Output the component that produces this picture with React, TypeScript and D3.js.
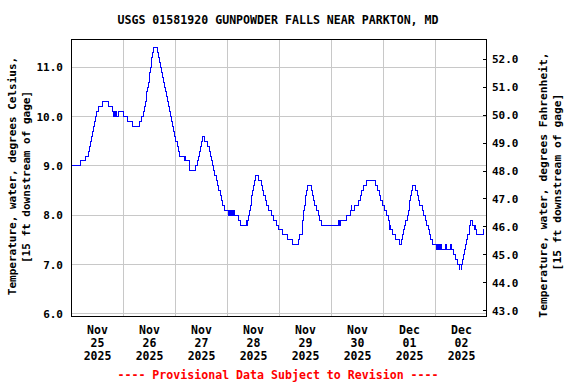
import React from "react";
import * as d3 from "d3";

// ---- Data (hours since 2025-11-25 00:00, water temperature in °C; stepped 15‑min record read at change points)
const nov25: [number, number][] = [
  [0, 9.0], [4.3, 9.1], [6.6, 9.2], [7.7, 9.3], [8.2, 9.4], [8.8, 9.5], [9.3, 9.6], [9.7, 9.7],
  [10.2, 9.8], [10.6, 9.9], [11.1, 10.0], [11.7, 10.1], [12.3, 10.2], [14.3, 10.3], [17.0, 10.2],
  [18.8, 10.1], [19.6, 10.0], [19.9, 10.1], [20.2, 10.0], [20.5, 10.1], [20.8, 10.0], [21.8, 10.1],
  [23.9, 10.0],
];
const nov26: [number, number][] = [
  [25.8, 9.9], [28.1, 9.8], [31.3, 9.9], [32.2, 10.0], [33.0, 10.1], [33.6, 10.2], [34.1, 10.3],
  [34.5, 10.4], [34.8, 10.5], [35.2, 10.6], [35.5, 10.7], [35.8, 10.8], [36.1, 10.9], [36.4, 11.0],
  [36.7, 11.1], [37.0, 11.2], [37.3, 11.3], [37.8, 11.4], [39.7, 11.3], [40.1, 11.2], [40.6, 11.1],
  [41.1, 11.0], [41.5, 10.9], [42.0, 10.8], [42.5, 10.7], [42.9, 10.6], [43.4, 10.5], [43.85, 10.4],
  [44.3, 10.3], [44.8, 10.2], [45.2, 10.1], [45.7, 10.0], [46.2, 9.9], [46.6, 9.8], [47.1, 9.7],
  [47.6, 9.6],
];
const nov27: [number, number][] = [
  [48.2, 9.5], [48.9, 9.4], [49.5, 9.3], [49.9, 9.2], [52.0, 9.1], [52.3, 9.2], [52.6, 9.1],
  [54.4, 9.0], [54.6, 8.9], [57.3, 9.0], [58.0, 9.1], [58.6, 9.2], [59.1, 9.3], [59.6, 9.4],
  [60.0, 9.5], [60.4, 9.6], [61.6, 9.5], [62.8, 9.4], [63.5, 9.3], [64.1, 9.2], [64.7, 9.1],
  [65.2, 9.0], [65.6, 8.9], [65.9, 8.8], [66.7, 8.7], [67.5, 8.6], [67.9, 8.5], [68.6, 8.4],
  [69.0, 8.3], [69.8, 8.2], [70.6, 8.1],
];
const nov28: [number, number][] = [
  [72.3, 8.0], [72.6, 8.1], [73.0, 8.0], [73.3, 8.1], [73.7, 8.0], [74.0, 8.1], [74.4, 8.0],
  [74.7, 8.1], [75.1, 8.0], [77.2, 7.9], [78.0, 7.8], [80.6, 7.9], [80.8, 7.8], [81.1, 7.9],
  [81.7, 8.0], [82.2, 8.1], [82.6, 8.2], [82.9, 8.3], [83.3, 8.4], [83.7, 8.5], [84.0, 8.6],
  [84.4, 8.7], [84.9, 8.8], [86.5, 8.7], [87.6, 8.6], [88.0, 8.5], [88.6, 8.4], [89.4, 8.3],
  [90.2, 8.2], [91.1, 8.1], [92.2, 8.0], [93.3, 7.9], [94.5, 7.8], [95.6, 7.7],
];
const nov29: [number, number][] = [
  [97.5, 7.6], [99.9, 7.5], [101.8, 7.4], [104.6, 7.5], [105.2, 7.6], [106.4, 7.7], [106.6, 7.8],
  [106.7, 7.9], [106.9, 8.0], [107.2, 8.1], [107.5, 8.2], [107.8, 8.3], [108.1, 8.4], [108.6, 8.5],
  [109.0, 8.6], [110.6, 8.5], [111.0, 8.4], [111.7, 8.3], [112.3, 8.2], [112.9, 8.1], [113.8, 8.0],
  [114.4, 7.9], [115.6, 7.8],
];
const nov30: [number, number][] = [
  [123.4, 7.9], [123.7, 7.8], [124.2, 7.9], [126.9, 8.0], [128.8, 8.1], [129.1, 8.2], [129.4, 8.1],
  [130.8, 8.2], [132.4, 8.3], [133.3, 8.4], [134.0, 8.5], [134.8, 8.6], [136.2, 8.7], [140.3, 8.6],
  [141.3, 8.5], [142.0, 8.4], [142.8, 8.3], [143.6, 8.2],
];
const dec01: [number, number][] = [
  [144.6, 8.1], [145.3, 8.0], [146.1, 7.9], [146.6, 7.8], [146.9, 7.7], [147.1, 7.8], [147.3, 7.7],
  [148.1, 7.6], [149.5, 7.5], [151.4, 7.4], [152.3, 7.5], [152.8, 7.6], [153.4, 7.7], [153.8, 7.8],
  [154.3, 7.9], [154.9, 8.0], [155.4, 8.1], [155.8, 8.2], [156.2, 8.3], [156.6, 8.4], [156.9, 8.5],
  [157.4, 8.6], [158.8, 8.5], [159.7, 8.4], [160.3, 8.3], [160.8, 8.2], [162.0, 8.1], [162.6, 8.0],
  [163.3, 7.9], [163.9, 7.8], [164.7, 7.7], [165.1, 7.6], [165.9, 7.5], [166.4, 7.4],
];
const dec02: [number, number][] = [
  [168.5, 7.3], [168.8, 7.4], [169.1, 7.3], [169.4, 7.4], [169.7, 7.3], [170.0, 7.4], [170.3, 7.3],
  [170.6, 7.4], [170.9, 7.3], [172.4, 7.4], [173.0, 7.3], [174.9, 7.4], [175.5, 7.3], [176.3, 7.2],
  [177.2, 7.1], [178.3, 7.0], [178.9, 6.9], [179.1, 7.0], [179.9, 6.9], [180.1, 7.0], [180.6, 7.1],
  [181.0, 7.2], [181.3, 7.3], [181.7, 7.4], [182.1, 7.5], [182.6, 7.6], [183.6, 7.7], [183.9, 7.8],
  [184.2, 7.9], [185.1, 7.8], [186.0, 7.7], [186.3, 7.8], [186.6, 7.7], [187.0, 7.6], [190.0, 7.7],
  [190.5, 7.7],
];

const celsiusTicks = [6, 7, 8, 9, 10, 11];
const fahrenheitTicks = [43, 44, 45, 46, 47, 48, 49, 50, 51, 52];
const startMs = Date.UTC(2025, 10, 25);
const endMs = Date.UTC(2025, 11, 3);

const titleText = "USGS 01581920 GUNPOWDER FALLS NEAR PARKTON, MD";
const leftLabel = ["Temperature, water, degrees Celsius,", "[15 ft downstream of gage]"];
const rightLabel = ["Temperature, water, degrees Fahrenheit,", "[15 ft downstream of gage]"];
const footerText = "---- Provisional Data Subject to Revision ----";

const FONT = "'DejaVu Sans Mono', 'Liberation Mono', monospace";

export default function App() {
  const W = 576, H = 384;
  const fL = 71.5, fR = 486.5, fT = 39.5, fB = 316.5;

  const series = [...nov25, ...nov26, ...nov27, ...nov28, ...nov29, ...nov30, ...dec01, ...dec02].map(
    ([h, t]) => ({ date: new Date(startMs + h * 3600e3), t })
  );

  const x = d3.scaleUtc().domain([new Date(startMs), new Date(endMs)]).range([71.5, 487.5]);
  const y = d3.scaleLinear().domain([6, 11]).range([313.8, 67.3]);
  const yF = d3.scaleLinear().domain([43, 52]).range([310.7, 59.3]);

  const line = d3
    .line<{ date: Date; t: number }>()
    .x((d) => x(d.date))
    .y((d) => y(d.t))
    .curve(d3.curveStepAfter);

  const days = d3.utcDay.range(new Date(startMs), new Date(endMs));
  const fmtMon = d3.utcFormat("%b");
  const fmtDay = d3.utcFormat("%d");
  const fmtYear = d3.utcFormat("%Y");
  const px = (v: number) => Math.floor(v) + 0.5;

  return (
    <svg
      width={W}
      height={H}
      viewBox={`0 0 ${W} ${H}`}
      style={{ position: "absolute", left: 0, top: 0, background: "#fff" }}
      fontFamily={FONT}
      fontWeight="bold"
    >
      <rect x={0} y={0} width={W} height={H} fill="#fff" />
      {/* grid */}
      <g stroke="#c8c8c8" strokeWidth={1} shapeRendering="crispEdges">
        {celsiusTicks.map((v) => (
          <line key={"gy" + v} x1={fL} x2={fR} y1={px(y(v))} y2={px(y(v))} />
        ))}
        {days.slice(1).map((d, i) => (
          <line key={"gx" + i} x1={px(x(d))} x2={px(x(d))} y1={fT} y2={fB} />
        ))}
      </g>
      {/* data line */}
      <path
        d={line(series) || ""}
        fill="none"
        stroke="#0000ff"
        strokeWidth={1}
        shapeRendering="crispEdges"
      />
      {/* frame */}
      <rect
        x={fL}
        y={fT}
        width={fR - fL}
        height={fB - fT}
        fill="none"
        stroke="#000"
        strokeWidth={1}
        shapeRendering="crispEdges"
      />
      {/* right ticks (inward) */}
      <g stroke="#000" shapeRendering="crispEdges">
        {fahrenheitTicks.map((v) => (
          <line key={"tf" + v} x1={fR - 4} x2={fR} y1={px(yF(v))} y2={px(yF(v))} />
        ))}
      </g>
      {/* left tick labels */}
      <g fontSize={11} textAnchor="end" fill="#000">
        {celsiusTicks.map((v) => (
          <text key={"lc" + v} x={63} y={y(v) + 4}>
            {v.toFixed(1)}
          </text>
        ))}
      </g>
      {/* right tick labels */}
      <g fontSize={11} textAnchor="start" fill="#000">
        {fahrenheitTicks.map((v) => (
          <text key={"lf" + v} x={492} y={yF(v) + 4}>
            {v.toFixed(1)}
          </text>
        ))}
      </g>
      {/* date labels */}
      <g fontSize={11.5} textAnchor="middle" fill="#000">
        {days.map((d, i) => {
          const cx = x(new Date(d.getTime() + 12 * 3600e3));
          return (
            <g key={"dl" + i}>
              <text x={cx} y={334}>{fmtMon(d)}</text>
              <text x={cx} y={347}>{fmtDay(d)}</text>
              <text x={cx} y={360}>{fmtYear(d)}</text>
            </g>
          );
        })}
      </g>
      {/* title */}
      <text x={278} y={24} fontSize={11.6} textAnchor="middle" fill="#000">
        {titleText}
      </text>
      {/* left axis title */}
      <g fontSize={11} textAnchor="middle" fill="#000">
        <text transform="translate(12,176) rotate(-90)" dy="0.35em">{leftLabel[0]}</text>
        <text transform="translate(26,177) rotate(-90)" dy="0.35em">{leftLabel[1]}</text>
      </g>
      {/* right axis title */}
      <g fontSize={11.3} textAnchor="middle" fill="#000">
        <text transform="translate(543,185) rotate(-90)" dy="0.35em">{rightLabel[0]}</text>
        <text transform="translate(557,182) rotate(-90)" dy="0.35em">{rightLabel[1]}</text>
      </g>
      {/* footer */}
      <text x={278} y={379} fontSize={11.6} textAnchor="middle" fill="#ff0000">
        {footerText}
      </text>
    </svg>
  );
}
